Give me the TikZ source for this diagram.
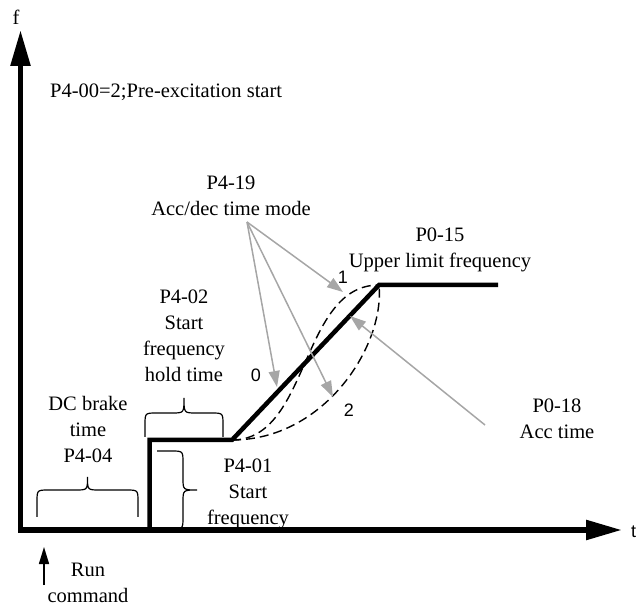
\documentclass[tikz,border=0pt]{standalone}
\usepackage{fontspec}
\setmainfont{Liberation Serif}
\newfontfamily\digitfont{Liberation Sans}
\usepackage{xcolor}
\usepackage{tikz}
\usetikzlibrary{arrows.meta, positioning}
\definecolor{pointergray}{RGB}{166,166,166}
\tikzstyle{label}    = [inner sep=0pt, align=center, font=\fontsize{20.5}{26}\selectfont]
\tikzstyle{curvenum} = [inner sep=0pt, font=\digitfont\fontsize{18}{20}\selectfont]
\tikzstyle{axis}     = [line width=5.5pt, -{Triangle[length=36pt, width=19pt]}]
\tikzstyle{profile}  = [line width=4.5pt, line join=miter]
\tikzstyle{scurve}   = [line width=1.4pt, dash pattern=on 9pt off 5pt]
\tikzstyle{pointer}  = [line width=1.5pt, pointergray, -{Triangle[length=16pt, width=11pt]}]
\tikzstyle{bracket}  = [line width=1.2pt]

\begin{document}
\begin{tikzpicture}[x=1pt, y=-1pt]
  \useasboundingbox (0,0) rectangle (638,612);

  % Braces
  \draw[bracket] (37,517) -- (37,502) .. controls (37,490) .. (49,490) -- (75.5,490)
    .. controls (87.5,490) .. (87.5,477) .. controls (87.5,490) .. (99.5,490) -- (126,490)
    .. controls (138,490) .. (138,502) -- (138,517);
  \draw[bracket] (145,437) -- (145,425) .. controls (145,413) .. (157,413) -- (172,413)
    .. controls (184,413) .. (184,398) .. controls (184,413) .. (196,413) -- (211,413)
    .. controls (223,413) .. (223,425) -- (223,437);
  \draw[bracket] (157,451) -- (171,451) .. controls (183,451) .. (183,463) -- (183,478)
    .. controls (183,490) .. (197,490) .. controls (183,490) .. (183,502) -- (183,517)
    .. controls (183,529) .. (171,529) -- (157,529);

  % Axes
  \coordinate (origin) at (20.5,530);
  \coordinate (ftop)   at (20.5,30);
  \coordinate (tend)   at (622,530);
  \draw[axis] (20.5,532.5) -- (ftop);
  \draw[axis] (18,530) -- (tend);
  \node[label, anchor=base] (flabel) at (16,25) {f};
  \node[curvenum, anchor=base west] (tlabel) at (631,537) {t};

  % Frequency profile
  \coordinate (hold0) at (149.5,440);
  \coordinate (hold1) at (232,440);
  \coordinate (upper0) at (379,285);
  \coordinate (upper1) at (498,285);
  \draw[profile] (149.5,530) -- (hold0) -- (hold1) -- (upper0) -- (upper1);

  % S-curves
  \draw[scurve] (hold1) .. controls (310,440) and (300,285) .. (upper0);
  \draw[scurve] (hold1) .. controls (325,440) and (385,345) .. (upper0);
  \node[curvenum] (num0) at (256,375) {0};
  \node[curvenum] (num1) at (343,277) {1};
  \node[curvenum] (num2) at (349,410) {2};

  % Texts
  \node[label, anchor=base west] (preexc) at (50,98) {P4-00=2;Pre-excitation start};
  \node[label] (mode)  at (231,196)   {P4-19\\Acc/dec time mode};
  \node[label] (ulim)  at (440,250)   {P0-15\\Upper limit frequency};
  \node[label] (holdt) at (184,336)   {P4-02\\Start\\frequency\\hold time};
  \node[label] (dcb)   at (88,429.5)  {DC brake\\time\\P4-04};
  \node[label] (sfreq) at (248,494)   {P4-01\\Start\\frequency};
  \node[label] (acct)  at (557,418.5) {P0-18\\Acc time};
  \node[label] (run)   at (88,583)    {Run\\command};

  % Pointers
  \coordinate (modefoot) at (247,222);
  \coordinate (acctfoot) at (485,425);
  \draw[pointer] (modefoot) -- (343,292);
  \draw[pointer] (modefoot) -- (277,387);
  \draw[pointer] (modefoot) -- (333,397);
  \draw[pointer] (acctfoot) -- (350,316);

  % Run command arrow
  \coordinate (runfoot) at (44,585);
  \coordinate (runtip)  at (44,547);
  \draw[line width=1.5pt, -{Triangle[length=17pt, width=10pt]}] (runfoot) -- (runtip);
\end{tikzpicture}
\end{document}
